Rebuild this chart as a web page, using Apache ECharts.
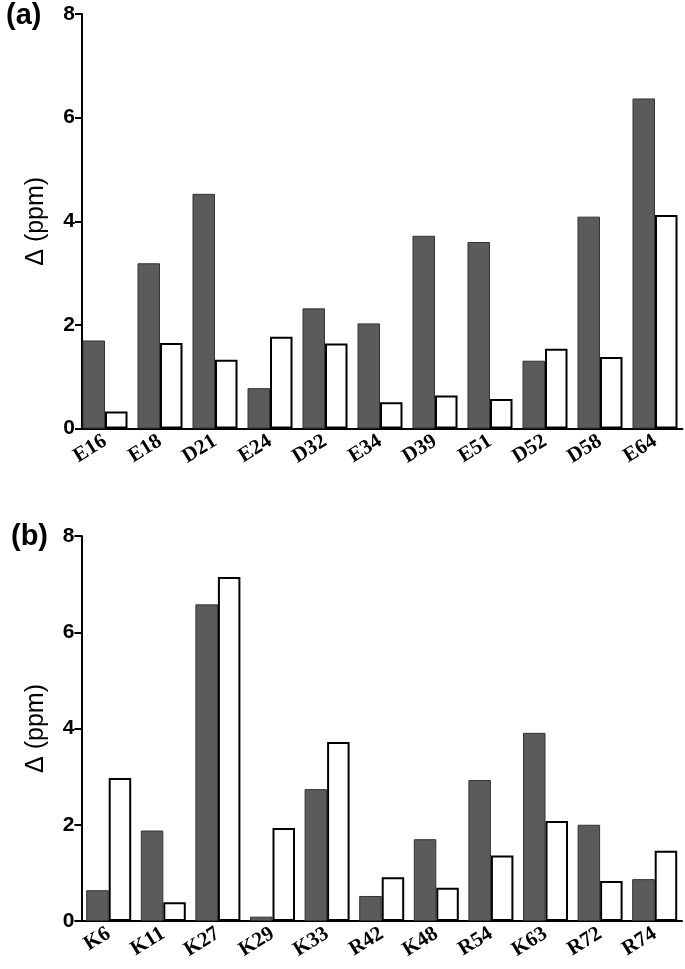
<!DOCTYPE html>
<html><head><meta charset="utf-8">
<script src="https://cdn.jsdelivr.net/npm/echarts@6/dist/echarts.min.js"></script>
<style>html,body{margin:0;padding:0;background:#fff;}#c{width:685px;height:969px;}</style>
</head><body><div id="c"></div>
<script>
var catsA = ['E16','E18','D21','E24','D32','E34','D39','E51','D52','D58','E64'];
var darkA = [1.70,3.19,4.53,0.78,2.32,2.03,3.72,3.60,1.31,4.09,6.37];
var whiteA = [0.33,1.65,1.33,1.77,1.64,0.51,0.64,0.57,1.54,1.38,4.12];
var catsB = ['K6','K11','K27','K29','K33','R42','K48','R54','K63','R72','R74'];
var darkB = [0.64,1.88,6.58,0.09,2.74,0.52,1.70,2.93,3.91,2.00,0.87];
var whiteB = [2.97,0.39,7.15,1.93,3.72,0.91,0.69,1.36,2.08,0.83,1.46];
var yTicks = [0,2,4,6,8];
var yName = 'Δ (ppm)';

var chart = echarts.init(document.getElementById('c'), null, {renderer:'canvas'});
function xAx(gi, cats){
  return {type:'category', gridIndex:gi, data:cats,
    axisLine:{lineStyle:{color:'#000',width:2}},
    axisTick:{alignWithLabel:true, length:9, lineStyle:{color:'#000',width:2}},
    axisLabel:{rotate:32, margin:11, color:'#000', fontFamily:'Liberation Serif', fontWeight:'bold', fontSize:21}};
}
function yAx(gi, off){
  return {type:'value', gridIndex:gi, min:yTicks[0], max:yTicks[yTicks.length-1], interval:2, offset:off,
    name:yName, nameLocation:'middle', nameGap:33, nameRotate:90,
    nameTextStyle:{color:'#000', fontFamily:'Liberation Sans', fontSize:25},
    splitLine:{show:false},
    axisLine:{show:true, lineStyle:{color:'#000',width:2}},
    axisTick:{show:true, length:7, lineStyle:{color:'#000',width:2}},
    axisLabel:{margin:7, color:'#000', fontFamily:'Liberation Sans', fontWeight:'bold', fontSize:21}};
}
var darkStyle = {color:'#5b5b5b', borderColor:'#333', borderWidth:1};
var whiteStyle = {color:'#fff', borderColor:'#000', borderWidth:2};
chart.setOption({
  animation:false,
  backgroundColor:'#fff',
  title:[
    {text:'(a)', left:1, top:-4, textStyle:{fontFamily:'Liberation Sans', fontWeight:'bold', fontSize:29, color:'#000'}},
    {text:'(b)', left:6, top:517, textStyle:{fontFamily:'Liberation Sans', fontWeight:'bold', fontSize:29, color:'#000'}}
  ],
  grid:[
    {left:77.5, width:605, top:14, height:414.6},
    {left:81.4, width:600.6, top:536, height:385}
  ],
  xAxis:[xAx(0,catsA), xAx(1,catsB)],
  yAxis:[yAx(0,-4.5), yAx(1,0)],
  series:[
    {type:'bar', xAxisIndex:0, yAxisIndex:0, data:darkA, barWidth:22.5, barGap:'0%', itemStyle:darkStyle},
    {type:'bar', xAxisIndex:0, yAxisIndex:0, data:whiteA, barWidth:22.5, barGap:'0%', itemStyle:whiteStyle},
    {type:'bar', xAxisIndex:1, yAxisIndex:1, data:darkB, barWidth:22.5, barGap:'0%', itemStyle:darkStyle},
    {type:'bar', xAxisIndex:1, yAxisIndex:1, data:whiteB, barWidth:22.5, barGap:'0%', itemStyle:whiteStyle}
  ]
});
</script></body></html>
